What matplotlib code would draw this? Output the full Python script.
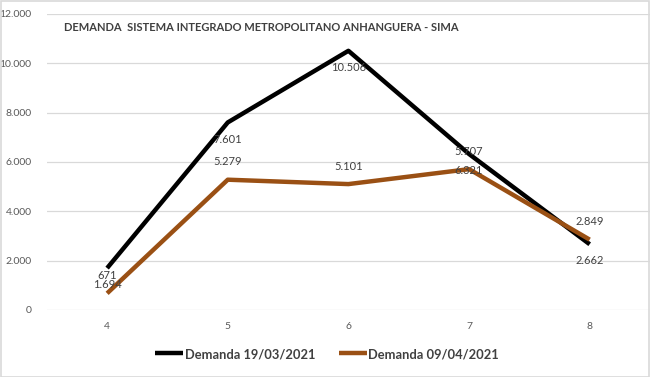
import matplotlib.pyplot as plt
from matplotlib.ticker import FuncFormatter

# chart data
categorias = [4, 5, 6, 7, 8]
demanda_1903 = [1694, 7601, 10506, 6321, 2662]
demanda_0904 = [671, 5279, 5101, 5707, 2849]

titulo = "DEMANDA  SISTEMA INTEGRADO METROPOLITANO ANHANGUERA - SIMA"
rotulos = ["Demanda 19/03/2021", "Demanda 09/04/2021"]

plt.rcParams['font.family'] = ['Lato', 'DejaVu Sans']
cinza = '#404040'
preto = '#000000'
marrom = '#9A5014'

def br(v, pos=None):
    return f"{int(v):,}".replace(",", ".")

fig = plt.figure(figsize=(6.5, 3.77), dpi=100)
ax = fig.add_axes([0.072, 0.178, 0.928, 0.785])

pos = list(range(len(categorias)))
l1, = ax.plot(pos, demanda_1903, color=preto, lw=3.2, solid_capstyle='butt', zorder=3)
l2, = ax.plot(pos, demanda_0904, color=marrom, lw=3.2, solid_capstyle='butt', zorder=3)

for x, v in zip(pos, demanda_1903):
    ax.annotate(br(v), (x, v), xytext=(0, -12), textcoords='offset points',
                ha='center', va='center', fontsize=8, color=cinza, zorder=4)
for x, v in zip(pos, demanda_0904):
    ax.annotate(br(v), (x, v), xytext=(0, 13), textcoords='offset points',
                ha='center', va='center', fontsize=8, color=cinza, zorder=4)

ax.set_xlim(-0.5, len(categorias) - 0.5)
ax.set_ylim(0, 12000)
ax.set_yticks(range(0, 12001, 2000))
ax.yaxis.set_major_formatter(FuncFormatter(br))
ax.set_xticks(pos)
ax.set_xticklabels([str(c) for c in categorias])
ax.tick_params(axis='both', length=0, labelsize=7.5, labelcolor='#595959')
ax.tick_params(axis='y', pad=11)
ax.tick_params(axis='x', pad=9)
ax.grid(axis='y', color='#d9d9d9', lw=0.9)
ax.set_axisbelow(True)
for s in ax.spines.values():
    s.set_visible(False)

fig.text(0.099, 0.926, titulo, ha='left', va='center', fontsize=8.0,
         fontweight='bold', color=cinza)

fig.legend([l1, l2], rotulos, loc='center', bbox_to_anchor=(0.503, 0.061), ncol=2,
           frameon=False, handlelength=2.15, handletextpad=0.1,
           columnspacing=1.85, prop={'weight': 'bold', 'size': 9.3})
for t in fig.legends[0].get_texts():
    t.set_color(cinza)

fig.patches.append(plt.Rectangle((0.001, 0.001), 0.997, 0.996, transform=fig.transFigure,
                                 fill=False, edgecolor='#d9d9d9', lw=1.2))

fig.savefig('out.png', dpi=100)
